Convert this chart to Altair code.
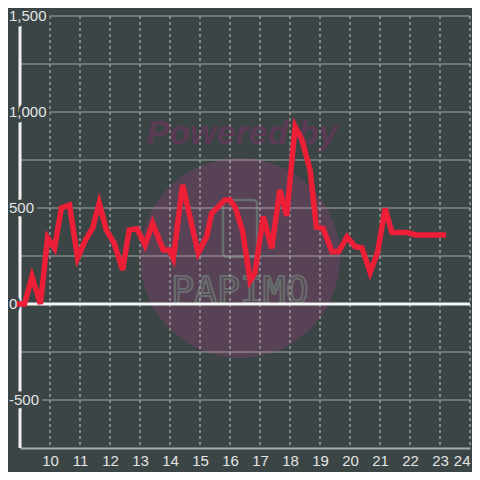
import altair as alt
import pandas as pd

# ---- data ----
hours = [8.9, 9.15, 9.4, 9.68, 9.92, 10.15, 10.38, 10.65, 10.92, 11.18, 11.42, 11.64,
         11.88, 12.14, 12.42, 12.64, 12.9, 13.17, 13.42, 13.78, 13.98, 14.11, 14.42,
         14.94, 15.22, 15.39, 15.83, 16.0, 16.17, 16.42, 16.67, 16.83, 17.11, 17.39,
         17.66, 17.89, 18.17, 18.4, 18.67, 18.88, 19.1, 19.4, 19.62, 19.9, 20.17,
         20.4, 20.67, 20.92, 21.17, 21.4, 21.9, 22.2, 23.2]
values = [0, 0, 142, 0, 344, 290, 500, 516, 240, 333, 395, 526, 385, 317, 177, 385,
          392, 307, 420, 281, 281, 238, 620, 265, 350, 472, 542, 542, 505, 380, 120,
          161, 455, 290, 594, 460, 924, 854, 698, 400, 394, 272, 272, 350, 298, 292,
          165, 270, 498, 372, 372, 360, 360]

x_ticks = list(range(10, 25))
y_grid = [-500, -250, 250, 500, 750, 1000, 1250, 1500]
y_label_values = [1500, 1000, 500, 0, -500]
y_label_texts = ["1,500", "1,000", "500", "0", "-500"]

BG = "#3b4545"
RED = "#ec1f37"
X_DOMAIN = [9, 24]
Y_DOMAIN = [-750, 1500]

line_df = pd.DataFrame({"x": hours, "y": values})
xgrid_df = pd.DataFrame({"x": x_ticks})
ygrid_df = pd.DataFrame({"y": y_grid})
ylab_df = pd.DataFrame({"y": y_label_values, "t": y_label_texts})
zero_df = pd.DataFrame({"y": [0]})
one = pd.DataFrame({"a": [0]})

xs = alt.Scale(domain=X_DOMAIN, nice=False, zero=False)
ys = alt.Scale(domain=Y_DOMAIN, nice=False, zero=False)
xaxis = alt.Axis(
    values=x_ticks, grid=False, ticks=False, domainColor="#a9a9a9", domainWidth=2,
    labelColor="#e4e4e4", labelFontSize=15, labelFont="Liberation Sans",
    labelPadding=5, title=None, labelFlush=True, format="d")

# ---- watermark ----
wm_circle = alt.Chart(one).mark_circle(color="#584256", opacity=1, size=40000).encode(
    x=alt.value(220), y=alt.value(242))
wm_text = alt.Chart(one).mark_text(
    text="Powered by", font="Liberation Sans", fontSize=34, fontWeight="bold",
    fontStyle="italic", color="#5a3a54", align="center", baseline="alphabetic"
).encode(x=alt.value(222), y=alt.value(128))
wm_icon = alt.Chart(one).mark_rect(
    fill="#584256", stroke="#686d6d", strokeWidth=2.5, cornerRadius=4
).encode(x=alt.value(203), x2=alt.value(237), y=alt.value(184), y2=alt.value(241))
wm_logo = alt.Chart(one).mark_text(
    text="PAPIMO", font="DejaVu Sans Mono", fontSize=38, fill="#584256",
    stroke="#686d6d", strokeWidth=2, align="center", baseline="alphabetic"
).encode(x=alt.value(220), y=alt.value(287))

# ---- grid ----
vgrid = alt.Chart(xgrid_df).mark_rule(color="#c4c4c4", strokeWidth=1, strokeDash=[3, 3]).encode(
    x=alt.X("x:Q", scale=xs, axis=xaxis))
hgrid = alt.Chart(ygrid_df).mark_rule(color="#a6a6a6", strokeWidth=1).encode(
    y=alt.Y("y:Q", scale=ys, axis=None))
yaxis_line = alt.Chart(one).mark_rule(color="#f2f2f2", strokeWidth=3).encode(
    x=alt.value(0))
zero_line = alt.Chart(zero_df).mark_rule(color="#f4f4f4", strokeWidth=3).encode(
    y=alt.Y("y:Q", scale=ys, axis=None))

# ---- y labels with halo ----
ylab_halo = alt.Chart(ylab_df).mark_text(
    font="Liberation Sans", fontSize=15, align="left", baseline="middle",
    fill=BG, stroke=BG, strokeWidth=7, strokeJoin="round"
).encode(x=alt.value(-11), y=alt.Y("y:Q", scale=ys, axis=None), text="t:N")
ylab = alt.Chart(ylab_df).mark_text(
    font="Liberation Sans", fontSize=15, align="left", baseline="middle", color="#e4e4e4"
).encode(x=alt.value(-11), y=alt.Y("y:Q", scale=ys, axis=None), text="t:N")

# ---- data line ----
line = alt.Chart(line_df).mark_line(color=RED, strokeWidth=5.5, strokeJoin="miter").encode(
    x=alt.X("x:Q", scale=xs, axis=xaxis),
    y=alt.Y("y:Q", scale=ys, axis=None),
)

chart = alt.layer(
    wm_circle, wm_text, wm_icon, wm_logo,
    vgrid, hgrid, yaxis_line, zero_line,
    ylab_halo, ylab, line
).properties(
    width=450, height=432,
    padding={"left": 12, "top": 8, "right": 2, "bottom": 24},
    autosize=alt.AutoSizeParams(type="none"),
    background=BG,
).configure_view(strokeWidth=0)

chart.save("out.html", embed_options={"renderer": "svg", "actions": False})
